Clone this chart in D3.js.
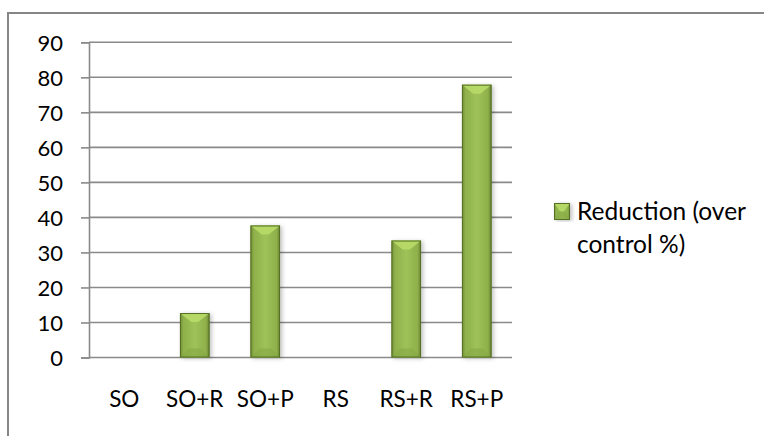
<!DOCTYPE html>
<html><head><meta charset="utf-8">
<script src="https://cdn.jsdelivr.net/npm/d3@7"></script>
<style>
html,body{margin:0;padding:0;background:#fff;}
svg{display:block;}
text{font-family:Lato,"Open Sans",sans-serif;fill:#000;}
</style></head>
<body>
<svg id="chart" width="764" height="436"></svg>
<script>
const categories = ["SO","SO+R","SO+P","RS","RS+R","RS+P"];
const values = [0, 12.7, 37.7, 0, 33.4, 77.9];
const yTicks = [0,10,20,30,40,50,60,70,80,90];
const seriesName = ["Reduction (over", "control %)"];

const svg = d3.select("#chart");
const W = 764, H = 436;
const plot = {left: 89, right: 512, top: 42.3, bottom: 357.5};

// defs
const defs = svg.append("defs");
const g1 = defs.append("linearGradient").attr("id","barGrad").attr("x1","0").attr("x2","1").attr("y1","0").attr("y2","0");
[["0%","#6f8c33"],["12%","#8fb04b"],["50%","#9fc259"],["88%","#8fb04b"],["100%","#67822f"]]
  .forEach(([o,c])=>g1.append("stop").attr("offset",o).attr("stop-color",c));
const f = defs.append("filter").attr("id","shadow").attr("x","-30%").attr("y","-10%").attr("width","160%").attr("height","120%");
f.append("feDropShadow").attr("dx",2).attr("dy",1).attr("stdDeviation",2).attr("flood-color","#000").attr("flood-opacity",0.25);

// frame (top and left only visible)
svg.append("line").attr("x1",8).attr("x2",W).attr("y1",13).attr("y2",13).attr("stroke","#868686").attr("stroke-width",2);
svg.append("line").attr("x1",8).attr("x2",8).attr("y1",12).attr("y2",H).attr("stroke","#868686").attr("stroke-width",2);

const x = d3.scaleBand().domain(categories).range([plot.left, plot.right]).paddingInner(0.58).paddingOuter(0.29);
const y = d3.scaleLinear().domain([0,90]).range([plot.bottom, plot.top]);

// gridlines
svg.append("g").selectAll("line").data(yTicks).join("line")
  .attr("x1",plot.left).attr("x2",plot.right)
  .attr("y1",d=>y(d)).attr("y2",d=>y(d))
  .attr("stroke","#8a8a8a").attr("stroke-width",1.6);

// y axis
const yAxis = d3.axisLeft(y).tickValues(yTicks).tickSize(8).tickPadding(18).tickFormat(d3.format("d"));
const ya = svg.append("g").attr("transform",`translate(${plot.left},0)`).call(yAxis);
ya.select(".domain").attr("stroke","#8a8a8a").attr("stroke-width",1.6);
ya.selectAll(".tick line").attr("stroke","#8a8a8a").attr("stroke-width",1.6);
ya.selectAll(".tick text").attr("font-size",22).attr("font-family","Lato").attr("fill","#000").attr("dy","0.35em");

// x labels
svg.append("g").selectAll("text").data(categories).join("text")
  .attr("x",d=>x(d)+x.bandwidth()/2).attr("y",406.5)
  .attr("text-anchor","middle").attr("font-size",22.5).text(d=>d);

// bars
function drawBar(g, x0, y0, w, h){
  if(h <= 0) return;
  const bev = Math.min(9, h/2);
  g.append("rect").attr("x",x0).attr("y",y0).attr("width",w).attr("height",h)
    .attr("fill","url(#barGrad)").attr("filter","url(#shadow)");
  g.append("path").attr("d",`M${x0},${y0}L${x0+w},${y0}L${x0+w*0.62},${y0+bev}L${x0+w*0.38},${y0+bev}Z`)
    .attr("fill","#b8da68").attr("opacity",0.9);
  g.append("path").attr("d",`M${x0},${y0+h}L${x0+w},${y0+h}L${x0+w*0.7},${y0+h-bev}L${x0+w*0.3},${y0+h-bev}Z`)
    .attr("fill","#86a844").attr("opacity",0.6);
  g.append("rect").attr("x",x0+0.5).attr("y",y0+0.5).attr("width",w-1).attr("height",h-1)
    .attr("fill","none").attr("stroke","#556f24").attr("stroke-width",1);
}
const bars = svg.append("g");
categories.forEach((c,i)=>{
  const v = values[i];
  drawBar(bars, x(c), y(v), x.bandwidth(), y(0)-y(v));
});

// legend
const lg = svg.append("g");
drawBar(lg, 554, 203, 16, 17);
lg.selectAll("text").data(seriesName).join("text")
  .attr("x",577).attr("y",(d,i)=>220+i*33).attr("font-size",24.5).text(d=>d);
</script>
</body></html>
